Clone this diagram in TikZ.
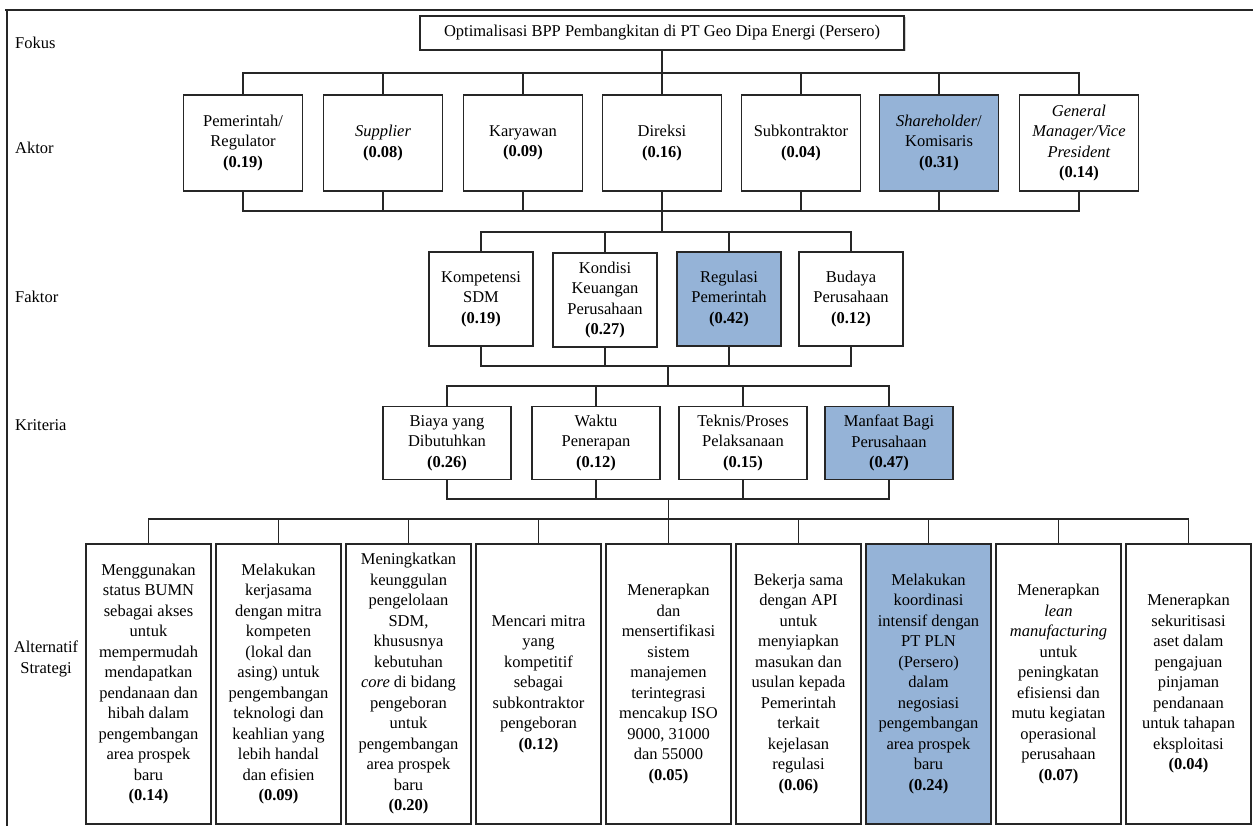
\documentclass[tikz,border=0pt]{standalone}
\usepackage{fontspec}
\setmainfont{Liberation Serif}
\usepackage{tikz}
\usetikzlibrary{shadows}
\definecolor{birumuda}{RGB}{149,179,215}
\tikzset{
    kotak/.style={
        draw=black!85,
        line width=1.3pt,
        fill=white,
        align=center,
        inner sep=1pt,
        font=\fontsize{16.5}{20.5}\selectfont
    },
    % kotak dengan bobot tertinggi
    kotakbiru/.style={
        kotak,
        fill=birumuda
    },
    aktor/.style={kotak, minimum width=119pt, minimum height=96pt},
    faktor/.style={kotak, minimum width=104pt, minimum height=94pt},
    kriteria/.style={kotak, minimum width=128pt, minimum height=73pt},
    strategi/.style={kotak, minimum width=125pt, minimum height=280pt},
    tingkat/.style={
        anchor=west,
        inner sep=0pt,
        font=\fontsize{16.5}{20.5}\selectfont
    },
    garis/.style={
        line width=1.3pt,
        black!85
    }
}

\begin{document}
\begin{tikzpicture}[x=1pt,y=-1pt]
	\useasboundingbox (0,0) rectangle (1253,826);
	
	% bingkai
	\draw[garis] (5,10) -- (1253,10);
	\draw[garis] (7,10) -- (7,826);
	
	% nama tingkat
	\node[tingkat] (tfokus) at (15,43) {Fokus};
	\node[tingkat] (taktor) at (15,148) {Aktor};
	\node[tingkat] (tfaktor) at (15,297) {Faktor};
	\node[tingkat] (tkriteria) at (15,425) {Kriteria};
	\node[tingkat, anchor=center, align=center] (tstrategi) at (46,659) {Alternatif\\Strategi};
	
	% fokus
	\node[kotak, minimum width=484pt, minimum height=34pt,
	      drop shadow={shadow xshift=1.5pt, shadow yshift=-1.5pt, fill=black!35}]
	      (fokus) at (662,33) {Optimalisasi BPP Pembangkitan di PT Geo Dipa Energi (Persero)};
	
	% aktor
	\node[aktor] (a1) at (243,143) {Pemerintah/\\Regulator\\\textbf{(0.19)}};
	\node[aktor] (a2) at (383,143) {\textit{Supplier}\\\textbf{(0.08)}};
	\node[aktor] (a3) at (523,143) {Karyawan\\\textbf{(0.09)}};
	\node[aktor] (a4) at (662,143) {Direksi\\\textbf{(0.16)}};
	\node[aktor] (a5) at (801,143) {Subkontraktor\\\textbf{(0.04)}};
	\node[aktor, kotakbiru] (a6) at (939,143) {\textit{Shareholder}/\\Komisaris\\\textbf{(0.31)}};
	\node[aktor] (a7) at (1079,143) {\textit{General}\\\textit{Manager/Vice}\\\textit{President}\\\textbf{(0.14)}};
	
	% faktor
	\node[faktor] (f1) at (481,299) {Kompetensi\\SDM\\\textbf{(0.19)}};
	\node[faktor] (f2) at (605,300) {Kondisi\\Keuangan\\Perusahaan\\\textbf{(0.27)}};
	\node[faktor, kotakbiru] (f3) at (729,299) {Regulasi\\Pemerintah\\\textbf{(0.42)}};
	\node[faktor] (f4) at (851,299) {Budaya\\Perusahaan\\\textbf{(0.12)}};
	
	% kriteria
	\node[kriteria] (k1) at (447,443) {Biaya yang\\Dibutuhkan\\\textbf{(0.26)}};
	\node[kriteria] (k2) at (596,443) {Waktu\\Penerapan\\\textbf{(0.12)}};
	\node[kriteria] (k3) at (743,443) {Teknis/Proses\\Pelaksanaan\\\textbf{(0.15)}};
	\node[kriteria, kotakbiru] (k4) at (889,443) {Manfaat Bagi\\Perusahaan\\\textbf{(0.47)}};
	
	% alternatif strategi
	\node[strategi] (s1) at (148.5,684) {Menggunakan\\status BUMN\\sebagai akses\\untuk\\mempermudah\\mendapatkan\\pendanaan dan\\hibah dalam\\pengembangan\\area prospek\\baru\\\textbf{(0.14)}};
	\node[strategi] (s2) at (278.5,684) {Melakukan\\kerjasama\\dengan mitra\\kompeten\\(lokal dan\\asing) untuk\\pengembangan\\teknologi dan\\keahlian yang\\lebih handal\\dan efisien\\\textbf{(0.09)}};
	\node[strategi] (s3) at (408.5,684) {Meningkatkan\\keunggulan\\pengelolaan\\SDM,\\khususnya\\kebutuhan\\\textit{core} di bidang\\pengeboran\\untuk\\pengembangan\\area prospek\\baru\\\textbf{(0.20)}};
	\node[strategi] (s4) at (538.5,684) {Mencari mitra\\yang\\kompetitif\\sebagai\\subkontraktor\\pengeboran\\\textbf{(0.12)}};
	\node[strategi] (s5) at (668.5,684) {Menerapkan\\dan\\mensertifikasi\\sistem\\manajemen\\terintegrasi\\mencakup ISO\\9000, 31000\\dan 55000\\\textbf{(0.05)}};
	\node[strategi] (s6) at (798.5,684) {Bekerja sama\\dengan API\\untuk\\menyiapkan\\masukan dan\\usulan kepada\\Pemerintah\\terkait\\kejelasan\\regulasi\\\textbf{(0.06)}};
	\node[strategi, kotakbiru] (s7) at (928.5,684) {Melakukan\\koordinasi\\intensif dengan\\PT PLN\\(Persero)\\dalam\\negosiasi\\pengembangan\\area prospek\\baru\\\textbf{(0.24)}};
	\node[strategi] (s8) at (1058.5,684) {Menerapkan\\\textit{lean}\\\textit{manufacturing}\\untuk\\peningkatan\\efisiensi dan\\mutu kegiatan\\operasional\\perusahaan\\\textbf{(0.07)}};
	\node[strategi] (s9) at (1188.5,684) {Menerapkan\\sekuritisasi\\aset dalam\\pengajuan\\pinjaman\\pendanaan\\untuk tahapan\\eksploitasi\\\textbf{(0.04)}};
	
	% titik cabang
	\path
	(662,73) coordinate (ca)
	(662,211) coordinate (cb)
	(662,232) coordinate (cc)
	(668,366) coordinate (cd)
	(668,386) coordinate (ce)
	(668.5,499) coordinate (cf)
	(668.5,519) coordinate (cg);
	
	% fokus ke aktor
	\draw[garis] (fokus.south) -- (ca);
	\draw[garis] (a1.north) -- (a1 |- ca) -- (a7 |- ca) -- (a7.north)
	(a2.north) -- (a2 |- ca)
	(a3.north) -- (a3 |- ca)
	(a4.north) -- (a4 |- ca)
	(a5.north) -- (a5 |- ca)
	(a6.north) -- (a6 |- ca);
	
	% aktor ke faktor
	\draw[garis] (a1.south) -- (a1 |- cb) -- (a7 |- cb) -- (a7.south)
	(a2.south) -- (a2 |- cb)
	(a3.south) -- (a3 |- cb)
	(a4.south) -- (cc)
	(a5.south) -- (a5 |- cb)
	(a6.south) -- (a6 |- cb);
	\draw[garis] (f1.north) -- (f1 |- cc) -- (f4 |- cc) -- (f4.north)
	(f2.north) -- (f2 |- cc)
	(f3.north) -- (f3 |- cc);
	
	% faktor ke kriteria
	\draw[garis] (f1.south) -- (f1 |- cd) -- (f4 |- cd) -- (f4.south)
	(f2.south) -- (f2 |- cd)
	(f3.south) -- (f3 |- cd)
	(cd) -- (ce);
	\draw[garis] (k1.north) -- (k1 |- ce) -- (k4 |- ce) -- (k4.north)
	(k2.north) -- (k2 |- ce)
	(k3.north) -- (k3 |- ce);
	
	% kriteria ke alternatif strategi
	\draw[garis] (k1.south) -- (k1 |- cf) -- (k4 |- cf) -- (k4.south)
	(k2.south) -- (k2 |- cf)
	(k3.south) -- (k3 |- cf)
	(cf) -- (s5.north);
	\draw[garis] (s1.north) -- (s1 |- cg) -- (s9 |- cg) -- (s9.north)
	(s2.north) -- (s2 |- cg)
	(s3.north) -- (s3 |- cg)
	(s4.north) -- (s4 |- cg)
	(s6.north) -- (s6 |- cg)
	(s7.north) -- (s7 |- cg)
	(s8.north) -- (s8 |- cg);
\end{tikzpicture}
\end{document}
